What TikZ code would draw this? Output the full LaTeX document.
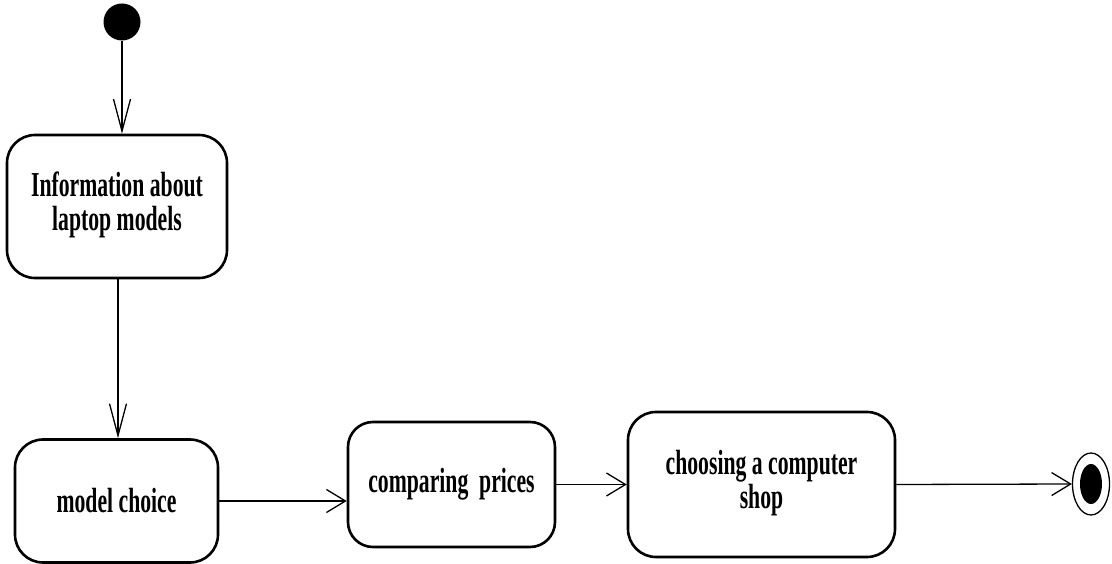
\documentclass[tikz,border=0pt]{standalone}
\usepackage{fontspec}
\newfontfamily\statefont[FakeStretch=0.62]{Liberation Serif}
\usetikzlibrary{arrows.meta,shapes.geometric}
\newcommand{\twolines}[2]{\raisebox{-5pt}{\begin{tabular}{@{}c@{}}#1\\#2\end{tabular}}}
\begin{document}
\begin{tikzpicture}[x=1pt,y=-1pt,
  statebox/.style={draw, line width=2.6pt, rounded corners=28pt, align=center,
    inner sep=0pt, font=\statefont\bfseries\fontsize{35}{34}\selectfont},
  flow/.style={line width=1.3pt},
  vtip/.style={-{Straight Barb[length=32pt,width=17pt,line width=1.3pt]}},
  htip/.style={-{Straight Barb[length=19pt,width=23pt,line width=1.3pt]}}]
\useasboundingbox (0,0) rectangle (1112,564);

% initial and final pseudo-states
\node[circle, fill=black, minimum size=37pt, inner sep=0pt] (start) at (122,22) {};
\node[ellipse, draw, line width=1.3pt, minimum width=37pt, minimum height=62pt, inner sep=0pt] (finish) at (1091,484) {};
\node[ellipse, fill=black, minimum width=22pt, minimum height=40pt, inner sep=0pt] (finishdot) at (1091,484) {};

% activity states
\node[statebox, minimum width=220pt, minimum height=143pt] (info) at (117,206.5) {\twolines{Information about}{laptop models}};
\node[statebox, minimum width=203pt, minimum height=123pt] (choice) at (116.5,501) {\raisebox{-3pt}{model choice}};
\node[statebox, minimum width=207pt, minimum height=125pt, rounded corners=25pt] (compare) at (451.5,484.5) {comparing\ \ prices};
\node[statebox, minimum width=267pt, minimum height=145pt] (shop) at (761.5,484.5) {\twolines{choosing a computer}{shop}};

% transitions
\draw[flow, vtip] (start) -- (start |- info.north);
\draw[flow, vtip] (info.south -| 118,0) -- (choice.north -| 118,0);
\draw[flow, htip] (choice.east) -- (choice.east -| compare.west);
\draw[flow, htip] (compare.east) -- (shop.west);
\draw[flow, htip] (shop.east) -- (finish.west);
\end{tikzpicture}
\end{document}
